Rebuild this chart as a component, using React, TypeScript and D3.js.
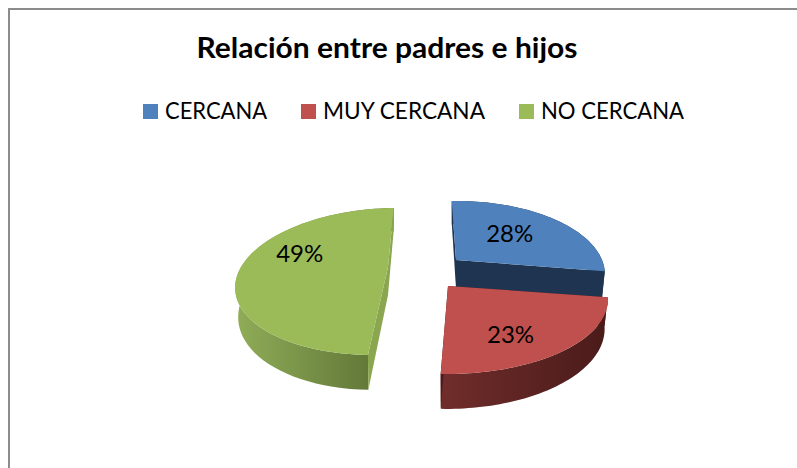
import React from "react";
import * as d3 from "d3";

const categories = ["CERCANA", "MUY CERCANA", "NO CERCANA"];
const values = [28, 23, 49];
const percentLabels = ["28%", "23%", "49%"];
const title = "Relación entre padres e hijos";

const topColors = ["#4f81bd", "#c0504d", "#9bbb59"];
const cutColors = ["#1f3450", "#4a1b1a", "#8aa64f"];
const wallStops = [
  ["#1f3450", "#1f3450"],
  ["#702d2b", "#4a1b1a"],
  ["#90ad58", "#5a6f33"],
];
const apexX = [456, 448, 388];
const apexY = [260, 286, 267];
const radiusX = [146, 157, 147];
const shear = [0, 1.5, 12];
const labelShift = [[-7, 0], [-3, 13], [0, -13]];
const legendSwatchX = [143, 301, 519];
const legendTextX = [165, 323, 541];
const legendTextW = [102, 162, 143];

const KY = 70.7, P = 0.197, DEPTH = 28, SHRINK = 0.98;
const W = 797, H = 468;
const FONT = "Lato, Carlito, sans-serif";

const arcs = d3
  .pie<number>()
  .sort(null)
  .startAngle((-2 * Math.PI) / 180)
  .endAngle(((360 - 2) * Math.PI) / 180)(values);

function project(i: number, r: number, a: number, bottom = false): [number, number] {
  const x = r * Math.sin(a);
  const y = r * Math.cos(a);
  const w = 1 + P * y;
  let sx = (radiusX[i] * x + shear[i] * y) / w;
  let sy = (-KY * y) / w;
  if (bottom) {
    sx *= SHRINK;
    sy += DEPTH / w;
  }
  return [apexX[i] + sx, apexY[i] + sy];
}

const line = d3.line();

function arcPoints(i: number, a0: number, a1: number, bottom = false) {
  return d3.range(0, 61).map((k) => project(i, 1, a0 + ((a1 - a0) * k) / 60, bottom));
}

export default function App() {
  return (
    <svg
      width={W}
      height={H}
      style={{ position: "absolute", left: 0, top: 0, display: "block", background: "#fff" }}
    >
      <defs>
        {wallStops.map((s, i) => (
          <linearGradient key={i} id={`wall${i}`} x1="0" x2="1" y1="0" y2="0">
            <stop offset="0" stopColor={s[0]} />
            <stop offset="1" stopColor={s[1]} />
          </linearGradient>
        ))}
      </defs>
      <path d="M797,9 H9 V468" fill="none" stroke="#8c8c8c" strokeWidth={2} />
      <text
        x={387}
        y={58}
        textAnchor="middle"
        fontFamily={FONT}
        fontWeight={700}
        fontSize={28}
        textLength={381}
        lengthAdjust="spacingAndGlyphs"
        fill="#000"
      >
        {title}
      </text>
      {categories.map((c, i) => (
        <g key={c}>
          <rect x={legendSwatchX[i]} y={104} width={15} height={15} fill={topColors[i]} />
          <text
            x={legendTextX[i]}
            y={119}
            fontFamily={FONT}
            fontSize={24}
            textLength={legendTextW[i]}
            lengthAdjust="spacingAndGlyphs"
            fill="#000"
          >
            {c}
          </text>
        </g>
      ))}
      {arcs.map((d, i) => {
        const top = arcPoints(i, d.startAngle, d.endAngle);
        const bot = arcPoints(i, d.startAngle, d.endAngle, true);
        const apex = project(i, 0, 0);
        const apexB = project(i, 0, 0, true);
        const wall = [...top, ...bot.slice().reverse()];
        const startCut = [apex, top[0], bot[0], apexB];
        const endCut = [apex, top[60], bot[60], apexB];
        const lit = [apex, ...top];
        return (
          <g key={i}>
            <path d={line(wall) + "Z"} fill={`url(#wall${i})`} />
            <path d={line(startCut) + "Z"} fill={cutColors[i]} />
            <path d={line(endCut) + "Z"} fill={cutColors[i]} />
            <path d={line(lit) + "Z"} fill={topColors[i]} />
          </g>
        );
      })}
      {arcs.map((d, i) => {
        const [lx, ly] = project(i, 0.6, (d.startAngle + d.endAngle) / 2);
        return (
          <text
            key={i}
            x={lx + labelShift[i][0]}
            y={ly + labelShift[i][1] + 8}
            textAnchor="middle"
            fontFamily={FONT}
            fontSize={24}
            fill="#000"
          >
            {percentLabels[i]}
          </text>
        );
      })}
    </svg>
  );
}
